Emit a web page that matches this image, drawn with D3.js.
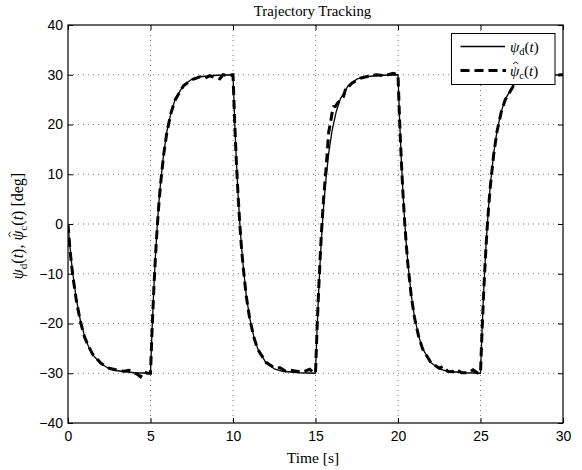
<!DOCTYPE html>
<html>
<head>
<meta charset="utf-8">
<script src="https://cdn.jsdelivr.net/npm/d3@7"></script>
<style>
  html, body { margin: 0; padding: 0; background: #fff; }
  svg { display: block; }
</style>
</head>
<body>
<svg id="chart" width="582" height="470"></svg>
<script>
// ---- Data ----
const xTicks = [0, 5, 10, 15, 20, 25, 30];
const yTicks = [-40, -30, -20, -10, 0, 10, 20, 30, 40];

// desired heading psi_d(t)  (solid)
const timeD = [
  0, 0.1, 0.2, 0.3, 0.5, 0.75, 1, 1.25, 1.5, 2, 2.5, 3, 4, 5,
  5.1, 5.2, 5.3, 5.4, 5.5, 5.6, 5.8, 6, 6.25, 6.5, 7, 7.5, 8, 9, 10,
  10.1, 10.2, 10.3, 10.4, 10.5, 10.6, 10.8, 11, 11.25, 11.5, 12, 12.5, 13, 14, 15,
  15.1, 15.2, 15.3, 15.4, 15.5, 15.6, 15.8, 16, 16.25, 16.5, 17, 17.5, 18, 19, 20,
  20.1, 20.2, 20.3, 20.4, 20.5, 20.6, 20.8, 21, 21.25, 21.5, 22, 22.5, 23, 24, 25,
  25.1, 25.2, 25.3, 25.4, 25.5, 25.6, 25.8, 26, 26.25, 26.5, 27, 27.5, 28, 29, 30
];
const psiD = [
  0, -3.9, -7.3, -10.2, -15.0, -19.4, -22.5, -24.7, -26.3, -28.1, -29.1, -29.5, -29.9, -30.0,
  -20.8, -13.0, -6.4, -0.8, 3.9, 7.9, 14.2, 18.7, 22.5, 25.1, 27.9, 29.1, 29.6, 29.9, 30.0,
  20.8, 13.0, 6.4, 0.8, -3.9, -7.9, -14.2, -18.7, -22.5, -25.1, -27.9, -29.1, -29.6, -29.9, -30.0,
  -20.8, -13.0, -6.4, -0.8, 3.9, 7.9, 14.2, 18.7, 22.5, 25.1, 27.9, 29.1, 29.6, 29.9, 30.0,
  20.8, 13.0, 6.4, 0.8, -3.9, -7.9, -14.2, -18.7, -22.5, -25.1, -27.9, -29.1, -29.6, -29.9, -30.0,
  -20.8, -13.0, -6.4, -0.8, 3.9, 7.9, 14.2, 18.7, 22.5, 25.1, 27.9, 29.1, 29.6, 29.9, 30.0
];

// estimated heading psi_c hat (dashed)
const timeC = [
  0, 0.1, 0.2, 0.3, 0.5, 0.75, 1, 1.25, 1.5, 2, 2.5, 3, 3.4, 3.7, 4.0, 4.2, 4.4, 4.6, 4.8, 5,
  5.1, 5.2, 5.3, 5.4, 5.5, 5.6, 5.8, 6, 6.25, 6.5, 7, 7.5, 8, 8.3, 8.6, 8.9, 9.2, 9.4, 9.7, 10,
  10.1, 10.2, 10.3, 10.4, 10.5, 10.6, 10.8, 11, 11.25, 11.5, 12, 12.5, 12.85, 13.2, 13.5, 13.85, 14.2, 14.65, 14.85, 15,
  15.1, 15.2, 15.3, 15.4, 15.5, 15.6, 15.7, 15.8, 15.9, 16.0, 16.1, 16.2, 16.35, 16.55, 16.7, 16.85, 16.95, 17.2, 17.7, 18.2, 18.7, 19.2, 19.7, 20,
  20.1, 20.2, 20.3, 20.4, 20.5, 20.6, 20.8, 21, 21.25, 21.5, 22, 22.5, 22.75, 23.0, 23.3, 23.55, 23.85, 24.3, 24.55, 24.8, 25,
  25.1, 25.2, 25.3, 25.4, 25.5, 25.6, 25.8, 26, 26.25, 26.5, 27, 27.5, 28, 29, 30
];
const psiC = [
  0, -4.3, -7.8, -10.6, -15.3, -19.6, -22.7, -24.6, -26.2, -28.0, -29.0, -29.4, -29.6, -29.4, -29.9, -30.2, -30.7, -29.7, -30.0, -30.0,
  -21.0, -13.2, -6.6, -1.0, 3.7, 7.7, 14.0, 18.6, 22.4, 25.0, 27.8, 29.0, 29.6, 29.3, 29.8, 29.4, 29.2, 30.0, 29.8, 30.0,
  20.6, 12.8, 6.2, 0.6, -4.1, -8.1, -14.4, -18.8, -22.6, -25.2, -27.8, -28.9, -28.9, -29.6, -29.4, -29.6, -29.8, -29.2, -29.8, -30.0,
  -20.6, -12.6, -5.5, 0.5, 5.5, 9.5, 13.8, 18.5, 20.2, 22.2, 23.6, 23.6, 24.4, 25.0, 25.6, 27.5, 27.4, 28.3, 29.3, 29.7, 30.0, 29.8, 30.3, 30.0,
  20.6, 12.8, 6.2, 0.6, -4.1, -8.1, -14.4, -18.8, -22.6, -25.2, -27.9, -29.0, -28.6, -29.6, -29.7, -29.2, -29.9, -29.9, -29.3, -29.9, -30.0,
  -21.0, -13.2, -6.6, -1.0, 3.7, 7.7, 14.0, 18.6, 22.4, 25.0, 27.8, 29.0, 29.6, 29.9, 30.0
];

// ---- Layout ----
const svg = d3.select("#chart");
const mLeft = 68, mRight = 563, mTop = 25, mBottom = 423;

const x = d3.scaleLinear().domain([0, 30]).range([mLeft, mRight]);
const y = d3.scaleLinear().domain([-40, 40]).range([mBottom, mTop]);

const tickFont = "'Liberation Sans', Arial, Helvetica, sans-serif";
const serif = "'Liberation Serif', 'Times New Roman', serif";

svg.append("rect").attr("width", 582).attr("height", 470).attr("fill", "#fff");

// grid
const grid = svg.append("g").attr("stroke", "#555").attr("stroke-width", 0.8)
  .attr("stroke-dasharray", "1,4").attr("fill", "none");
xTicks.filter(d => d > 0 && d < 30).forEach(d => {
  grid.append("line").attr("x1", x(d)).attr("x2", x(d)).attr("y1", mTop).attr("y2", mBottom);
});
yTicks.filter(d => d > -40 && d < 40).forEach(d => {
  grid.append("line").attr("x1", mLeft).attr("x2", mRight).attr("y1", y(d)).attr("y2", y(d));
});

// axes (inward ticks)
const fmt = d3.format("d");
const xAxisB = svg.append("g").attr("transform", `translate(0,${mBottom})`)
  .call(d3.axisBottom(x).tickValues(xTicks).tickFormat(fmt).tickSizeInner(-5).tickSizeOuter(0).tickPadding(8));
const xAxisT = svg.append("g").attr("transform", `translate(0,${mTop})`)
  .call(d3.axisTop(x).tickValues(xTicks).tickFormat("").tickSizeInner(-5).tickSizeOuter(0));
const yAxisL = svg.append("g").attr("transform", `translate(${mLeft},0)`)
  .call(d3.axisLeft(y).tickValues(yTicks).tickFormat(fmt).tickSizeInner(-5).tickSizeOuter(0).tickPadding(5));
const yAxisR = svg.append("g").attr("transform", `translate(${mRight},0)`)
  .call(d3.axisRight(y).tickValues(yTicks).tickFormat("").tickSizeInner(-5).tickSizeOuter(0));

[xAxisB, xAxisT, yAxisL, yAxisR].forEach(g => {
  g.select(".domain").remove();
  g.selectAll("line").attr("stroke", "#000").attr("stroke-width", 1);
  g.selectAll("text").attr("fill", "#000").style("font-family", tickFont).style("font-size", "14px");
});

// data lines
svg.append("clipPath").attr("id", "clip").append("rect")
  .attr("x", mLeft).attr("y", mTop).attr("width", mRight - mLeft).attr("height", mBottom - mTop);

const line = d3.line().x(d => x(d[0])).y(d => y(d[1]));
const dataD = timeD.map((t, i) => [t, psiD[i]]);
const dataC = timeC.map((t, i) => [t, psiC[i]]);

const plot = svg.append("g").attr("clip-path", "url(#clip)");
plot.append("path").datum(dataD).attr("d", line)
  .attr("fill", "none").attr("stroke", "#000").attr("stroke-width", 1.3).attr("stroke-linejoin", "round");
plot.append("path").datum(dataC).attr("d", line)
  .attr("fill", "none").attr("stroke", "#000").attr("stroke-width", 3)
  .attr("stroke-dasharray", "9,5");

// box
svg.append("rect").attr("x", mLeft).attr("y", mTop).attr("width", mRight - mLeft).attr("height", mBottom - mTop)
  .attr("fill", "none").attr("stroke", "#000").attr("stroke-width", 1.2);

// title and labels
svg.append("text").attr("x", 312.5).attr("y", 16).attr("text-anchor", "middle")
  .style("font-family", serif).style("font-size", "14.8px").text("Trajectory Tracking");
svg.append("text").attr("x", 313).attr("y", 463).attr("text-anchor", "middle")
  .style("font-family", serif).style("font-size", "15.5px").text("Time [s]");

// math label: psi (optionally with hat, drawn as a small path) + upright subscript + (t)
const hats = [];
function mathLabel(g, sel, hat, sub, size) {
  const psi = sel.append("tspan").style("font-style", "italic").text("\u03C8");
  const dyDown = size * 0.25;
  sel.append("tspan").attr("dy", dyDown).style("font-size", (size * 0.7) + "px").text(sub);
  sel.append("tspan").attr("dy", -dyDown).text("(");
  sel.append("tspan").style("font-style", "italic").text("t");
  sel.append("tspan").text(")");
  if (hat) hats.push({ g, sel, psi, size });
}
function drawHats() {
  hats.forEach(({ g, sel, psi, size }) => {
    const ext = psi.node().getExtentOfChar(0);
    const base = +sel.attr("y") || 0;
    const cx = ext.x + ext.width / 2 + size * 0.07;
    const hw = size * 0.17;
    const yTop = base - size * 0.9, yBot = base - size * 0.78;
    g.append("path")
      .attr("d", `M${cx - hw},${yBot} L${cx},${yTop} L${cx + hw},${yBot}`)
      .attr("fill", "none").attr("stroke", "#000").attr("stroke-width", 0.9)
      .attr("stroke-linejoin", "miter");
  });
}

const ylabG = svg.append("g").attr("transform", "translate(23,226) rotate(-90)");
const ylab = ylabG.append("text").attr("x", 0).attr("y", 0)
  .attr("text-anchor", "middle").style("font-family", serif).style("font-size", "16px");
mathLabel(ylabG, ylab, false, "d", 16);
ylab.append("tspan").text(", ");
mathLabel(ylabG, ylab, true, "c", 16);
ylab.append("tspan").text(" [deg]");

// legend
const lg = svg.append("g");
lg.append("rect").attr("x", 451.5).attr("y", 33.5).attr("width", 103.5).attr("height", 51)
  .attr("fill", "#fff").attr("stroke", "#000").attr("stroke-width", 1);
lg.append("line").attr("x1", 460.5).attr("x2", 505).attr("y1", 46.5).attr("y2", 46.5)
  .attr("stroke", "#000").attr("stroke-width", 1.3);
lg.append("line").attr("x1", 460.5).attr("x2", 506).attr("y1", 70.5).attr("y2", 70.5)
  .attr("stroke", "#000").attr("stroke-width", 3).attr("stroke-dasharray", "9,5");
const l1 = lg.append("text").attr("x", 510).attr("y", 51.5).style("font-family", serif).style("font-size", "15px");
mathLabel(lg, l1, false, "d", 15);
const l2 = lg.append("text").attr("x", 510).attr("y", 75.5).style("font-family", serif).style("font-size", "15px");
mathLabel(lg, l2, true, "c", 15);

drawHats();
</script>
</body>
</html>
